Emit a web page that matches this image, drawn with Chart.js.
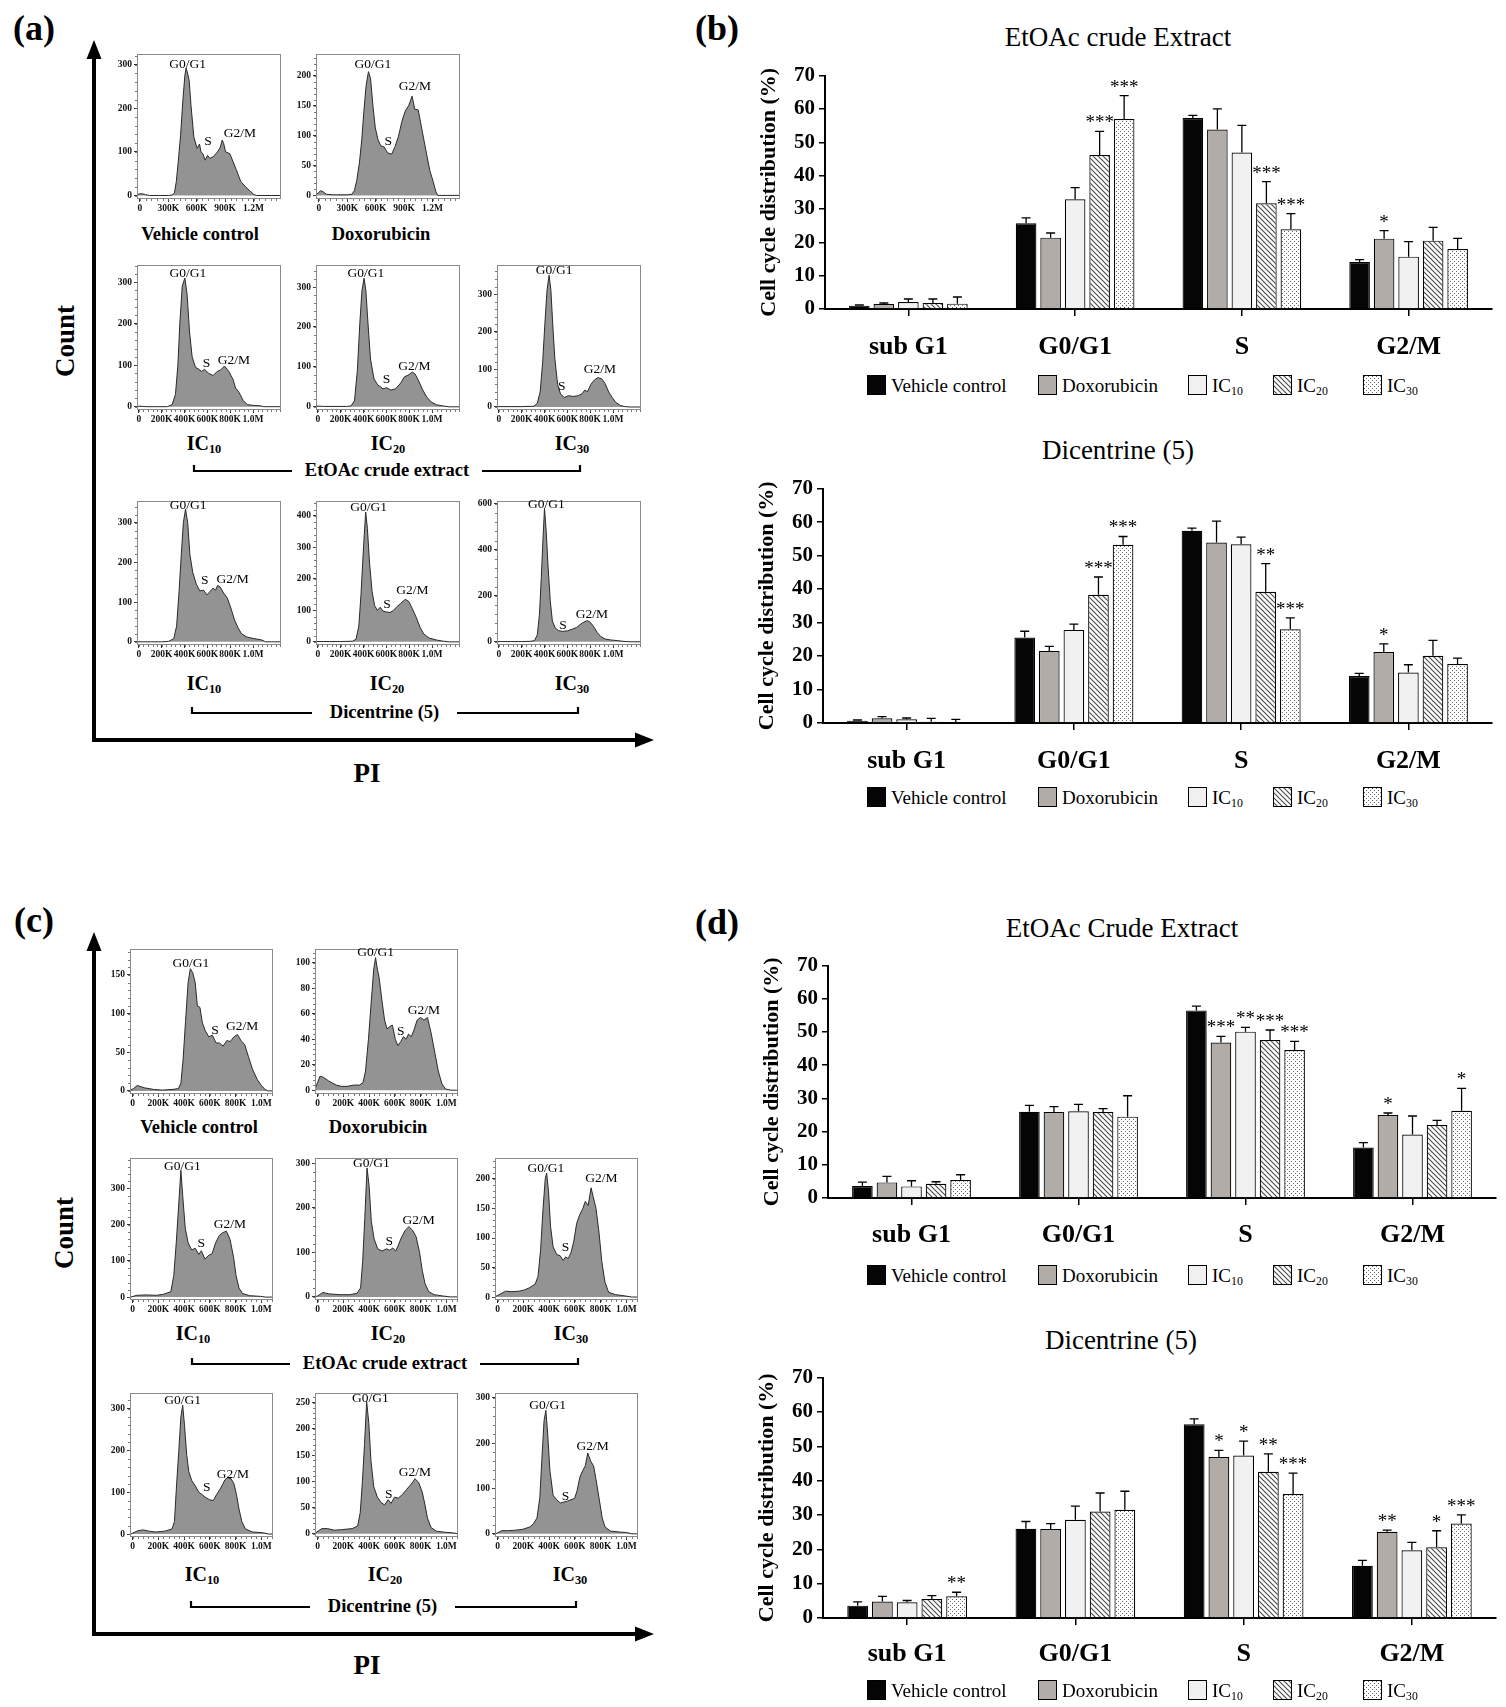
<!DOCTYPE html>
<html>
<head>
<meta charset="utf-8">
<title>Cell cycle distribution</title>
<script src="https://cdn.jsdelivr.net/npm/chart.js@4.4.1/dist/chart.umd.min.js"></script>
<style>
  html, body { margin: 0; padding: 0; background: #fff; }
  body { position: relative; width: 1506px; height: 1707px; overflow: hidden;
         font-family: "Liberation Serif", "Times New Roman", serif; color: #000; }
  .abs { position: absolute; }
  .txt { position: absolute; white-space: nowrap; line-height: 1; transform: translate(-50%, -50%); }
  .cap { font-weight: bold; font-size: 18.5px; }
  .ic { font-weight: bold; font-size: 20px; }
  .ic sub, .lg sub { font-size: 0.62em; vertical-align: -0.28em; line-height: 0; }
  .panel { font-weight: bold; font-size: 36px; }
  .axisname { font-weight: bold; font-size: 27px; }
  .rot { transform: translate(-50%, -50%) rotate(-90deg); }
  .ttl { font-size: 27px; }
  .lg { position: absolute; white-space: nowrap; line-height: 1; font-size: 19px; transform: translateY(-50%); }
  .sw { position: absolute; width: 19px; height: 20px; border: 1.2px solid #000; box-sizing: border-box; transform: translateY(-50%); }
  svg { position: absolute; left: 0; top: 0; }
</style>
</head>
<body>
<script>
const SERIF = '"Liberation Serif", "Times New Roman", serif';

// ---------- bar charts (b) and (d) ----------
const phases = ['sub G1', 'G0/G1', 'S', 'G2/M'];
const groupNames = ['Vehicle control', 'Doxorubicin', 'IC10', 'IC20', 'IC30'];
const groupLabels = ['Vehicle control', 'Doxorubicin', 'IC<sub>10</sub>', 'IC<sub>20</sub>', 'IC<sub>30</sub>'];

// rows: Vehicle, Doxorubicin, IC10, IC20, IC30 ; columns: sub G1, G0/G1, S, G2/M
const bExtMean = [[1.0, 25.7, 57.3, 14.1], [1.5, 21.4, 53.8, 21.1], [2.1, 32.9, 46.9, 15.7], [1.8, 46.2, 31.7, 20.5], [1.6, 57.0, 23.9, 18.0]];
const bExtErr  = [[0.2, 1.6, 0.8, 0.7], [0.3, 1.4, 6.2, 2.4], [0.9, 3.5, 8.2, 4.5], [1.2, 7.1, 6.5, 4.0], [2.0, 7.0, 4.7, 3.2]];
const bExtSig  = [['', '', '', ''], ['', '', '', '*'], ['', '', '', ''], ['', '***', '***', ''], ['', '***', '***', '']];

const bDicMean = [[0.7, 25.5, 57.4, 14.0], [1.4, 21.5, 53.9, 21.2], [1.1, 27.8, 53.4, 15.1], [0.4, 38.3, 39.2, 20.1], [0.0, 53.2, 28.0, 17.6]];
const bDicErr  = [[0.2, 1.9, 0.8, 0.8], [0.5, 1.4, 6.4, 2.4], [0.4, 1.7, 2.1, 2.3], [1.0, 5.3, 8.4, 4.6], [1.1, 2.5, 3.4, 1.8]];
const bDicSig  = [['', '', '', ''], ['', '', '', '*'], ['', '', '', ''], ['', '***', '**', ''], ['', '***', '***', '']];

const dExtMean = [[3.6, 26.0, 56.5, 15.2], [4.7, 25.9, 46.8, 25.0], [3.5, 26.1, 50.1, 19.1], [4.3, 25.9, 47.6, 22.0], [5.4, 24.5, 44.6, 26.3]];
const dExtErr  = [[1.2, 1.9, 1.3, 1.5], [1.8, 1.6, 1.9, 0.6], [1.7, 2.1, 1.3, 5.6], [0.6, 1.0, 3.0, 1.4], [1.6, 6.3, 2.6, 6.7]];
const dExtSig  = [['', '', '', ''], ['', '', '***', '*'], ['', '', '**', ''], ['', '', '***', ''], ['', '', '***', '*']];

const dDicMean = [[3.6, 26.0, 56.4, 15.2], [4.8, 25.9, 46.9, 25.1], [4.6, 28.6, 47.3, 19.7], [5.5, 31.0, 42.6, 20.6], [6.3, 31.5, 36.1, 27.5]];
const dDicErr  = [[1.1, 2.1, 1.6, 1.6], [1.5, 1.6, 1.9, 0.5], [0.5, 4.0, 4.2, 2.3], [1.0, 5.4, 5.2, 4.8], [1.2, 5.4, 6.1, 2.5]];
const dDicSig  = [['', '', '', ''], ['', '', '*', '**'], ['', '', '*', ''], ['', '', '**', '*'], ['**', '', '***', '***']];

// ---------- flow cytometry histograms (PI in K, count) ----------
const xTicks300 = [0, 300, 600, 900, 1200];
const xLab300 = ['0', '300K', '600K', '900K', '1.2M'];
const xTicks200 = [0, 200, 400, 600, 800, 1000];
const xLab200 = ['0', '200K', '400K', '600K', '800K', '1.0M'];
const phaseNames = ['G0/G1', 'S', 'G2/M'];

// (a) vehicle control
const hA1x = [-25, 0, 25, 60, 100, 200, 300, 340, 365, 385, 405, 430, 455, 475, 488, 500, 520, 540, 570, 605, 630, 645, 665, 690, 715, 740, 775, 820, 850, 870, 885, 905, 950, 985, 1020, 1065, 1120, 1160, 1205, 1235, 1300, 1480];
const hA1y = [2, 4, 4, 2, 0, 0, 0, 1, 6, 32, 77, 138, 221, 274, 292, 283, 265, 206, 134, 108, 118, 100, 96, 81, 92, 85, 89, 100, 111, 127, 119, 100, 96, 77, 58, 32, 19, 11, 2, 0, 0, 0];
// (a) doxorubicin
const hA2x = [-25, 0, 20, 45, 80, 150, 300, 350, 375, 400, 428, 453, 474, 499, 524, 546, 571, 596, 625, 654, 690, 726, 769, 805, 841, 877, 912, 948, 984, 1013, 1049, 1092, 1135, 1171, 1207, 1236, 1255, 1300, 1480];
const hA2y = [2, 5, 8, 6, 2, 1, 1, 2, 8, 25, 54, 93, 138, 184, 207, 195, 150, 113, 93, 83, 81, 71, 69, 82, 99, 124, 141, 150, 166, 144, 143, 107, 71, 42, 23, 6, 0, 0, 0];
// (a) EtOAc extract IC10, IC20, IC30
const hA3x = [-15, 20, 70, 150, 250, 292, 321, 342, 359, 380, 403, 423, 444, 467, 496, 526, 550, 575, 613, 651, 686, 715, 750, 788, 826, 847, 876, 914, 949, 1007, 1066, 1095, 1150, 1240];
const hA3y = [1, 1, 0, 0, 0, 5, 30, 100, 200, 290, 310, 270, 180, 120, 95, 90, 85, 90, 80, 75, 85, 88, 98, 85, 65, 45, 35, 15, 5, 3, 2, 0, 0, 0];
const hA4x = [-15, 50, 150, 250, 290, 321, 346, 368, 386, 405, 421, 439, 461, 492, 524, 571, 602, 639, 680, 727, 758, 796, 827, 852, 883, 914, 952, 993, 1040, 1100, 1150, 1240];
const hA4y = [2, 1, 1, 1, 2, 15, 90, 210, 290, 322, 290, 210, 120, 70, 55, 45, 48, 42, 45, 60, 75, 80, 87, 82, 65, 45, 25, 12, 5, 2, 0, 0];
const hA5x = [-15, 100, 200, 306, 337, 362, 384, 403, 422, 440, 456, 472, 490, 515, 540, 572, 609, 650, 697, 728, 753, 775, 806, 837, 868, 900, 931, 962, 993, 1025, 1065, 1103, 1150, 1240];
const hA5y = [1, 1, 1, 2, 10, 40, 120, 220, 310, 350, 310, 220, 130, 60, 35, 25, 30, 28, 30, 35, 45, 40, 60, 72, 78, 75, 62, 40, 25, 12, 4, 1, 0, 0];
// (a) dicentrine IC10, IC20, IC30
const hA6x = [-15, 100, 197, 259, 306, 331, 353, 372, 390, 409, 428, 447, 472, 503, 534, 566, 597, 628, 650, 672, 690, 712, 744, 775, 806, 838, 869, 900, 947, 1009, 1072, 1109, 1160, 1240];
const hA6y = [0, 0, 0, 1, 8, 40, 130, 220, 300, 334, 300, 220, 175, 145, 128, 130, 118, 128, 135, 130, 142, 138, 122, 110, 85, 55, 35, 20, 12, 8, 5, 0, 0, 0];
const hA7x = [-15, 100, 200, 303, 334, 359, 378, 397, 419, 434, 453, 475, 497, 522, 547, 569, 600, 631, 663, 694, 725, 766, 797, 828, 859, 897, 928, 975, 1038, 1100, 1150, 1240];
const hA7y = [1, 1, 1, 2, 8, 50, 150, 280, 412, 360, 250, 160, 115, 100, 110, 98, 95, 93, 100, 112, 122, 135, 128, 105, 80, 45, 25, 12, 6, 2, 0, 0];
const hA8x = [-15, 100, 200, 275, 312, 337, 356, 372, 387, 400, 415, 431, 450, 469, 494, 525, 562, 603, 644, 681, 712, 744, 775, 800, 831, 862, 894, 931, 978, 1041, 1087, 1150, 1240];
const hA8y = [1, 1, 1, 2, 5, 30, 120, 280, 450, 580, 480, 330, 180, 90, 60, 48, 45, 48, 55, 62, 75, 85, 92, 85, 65, 40, 22, 12, 8, 5, 2, 0, 0];

// (c) vehicle control, doxorubicin
const hC1x = [-18, 8, 36, 92, 161, 231, 314, 356, 375, 392, 411, 431, 448, 467, 486, 503, 523, 542, 564, 592, 620, 648, 675, 703, 731, 759, 787, 814, 842, 870, 898, 931, 967, 1000, 1028, 1050, 1090];
const hC1y = [1, 3, 7, 4, 2, 1, 2, 3, 10, 40, 90, 140, 158, 153, 140, 110, 108, 88, 78, 70, 72, 62, 62, 58, 65, 64, 70, 73, 65, 60, 45, 28, 15, 7, 2, 0, 0];
const hC2x = [-15, 19, 47, 89, 145, 186, 228, 284, 325, 353, 372, 395, 417, 436, 450, 464, 478, 500, 520, 539, 561, 581, 603, 623, 645, 667, 687, 706, 728, 751, 773, 798, 826, 853, 881, 909, 937, 965, 992, 1034, 1090];
const hC2y = [2, 11, 10, 7, 4, 3, 3, 4, 4, 6, 15, 40, 70, 95, 104, 95, 88, 70, 55, 48, 50, 51, 40, 35, 38, 42, 40, 44, 42, 48, 55, 57, 55, 57, 45, 30, 15, 5, 1, 0, 0];
// (c) EtOAc extract IC10, IC20, IC30
const hC3x = [-15, 33, 103, 186, 242, 297, 320, 339, 359, 375, 389, 409, 431, 459, 486, 514, 534, 562, 589, 617, 645, 673, 700, 728, 756, 784, 803, 826, 853, 909, 992, 1034, 1090];
const hC3y = [0, 5, 6, 5, 8, 15, 60, 150, 260, 350, 280, 190, 150, 130, 135, 118, 128, 105, 115, 120, 150, 170, 178, 182, 160, 110, 60, 25, 10, 4, 2, 0, 0];
const hC4x = [-15, 0, 42, 83, 167, 250, 306, 334, 350, 367, 384, 400, 417, 439, 467, 500, 534, 561, 584, 606, 625, 653, 681, 709, 737, 765, 792, 812, 834, 862, 904, 973, 1029, 1090];
const hC4y = [1, 2, 10, 7, 5, 5, 8, 20, 80, 180, 290, 250, 170, 130, 108, 103, 108, 105, 110, 103, 115, 135, 150, 158, 150, 135, 100, 60, 30, 12, 5, 2, 0, 0];
const hC5x = [-15, 28, 64, 111, 167, 208, 250, 292, 314, 334, 353, 370, 381, 395, 411, 431, 459, 486, 509, 528, 548, 570, 592, 614, 639, 662, 681, 703, 726, 742, 764, 787, 809, 834, 862, 917, 987, 1042, 1090];
const hC5y = [1, 6, 10, 9, 10, 12, 16, 22, 35, 80, 150, 200, 210, 180, 120, 85, 72, 70, 62, 68, 65, 75, 95, 125, 140, 150, 162, 155, 185, 170, 150, 110, 60, 25, 8, 4, 2, 0, 0];
// (c) dicentrine IC10, IC20, IC30
const hC6x = [-15, 42, 83, 125, 181, 250, 306, 325, 342, 359, 375, 389, 403, 420, 436, 459, 487, 514, 537, 564, 598, 626, 653, 675, 698, 717, 737, 765, 787, 806, 826, 848, 876, 931, 1015, 1056, 1090];
const hC6y = [0, 8, 10, 7, 5, 7, 12, 30, 120, 200, 280, 308, 260, 190, 150, 128, 115, 100, 95, 88, 82, 80, 95, 105, 118, 130, 135, 132, 120, 95, 60, 30, 12, 5, 3, 0, 0];
const hC7x = [-15, 33, 75, 131, 186, 270, 311, 331, 348, 364, 381, 398, 414, 436, 464, 492, 520, 548, 570, 598, 626, 659, 692, 728, 756, 784, 812, 834, 853, 881, 923, 992, 1048, 1090];
const hC7y = [2, 10, 10, 7, 8, 10, 15, 40, 100, 170, 252, 210, 140, 90, 70, 60, 55, 65, 58, 70, 68, 75, 85, 95, 105, 98, 80, 55, 30, 12, 5, 3, 2, 0];
const hC8x = [-15, 33, 83, 139, 195, 250, 278, 306, 328, 345, 361, 375, 389, 406, 431, 459, 487, 514, 542, 570, 598, 617, 639, 662, 681, 700, 723, 745, 764, 787, 812, 834, 876, 945, 1000, 1042, 1090];
const hC8y = [0, 7, 7, 8, 10, 15, 22, 35, 80, 170, 250, 272, 220, 140, 85, 75, 68, 70, 72, 75, 78, 95, 125, 140, 150, 178, 160, 150, 120, 80, 35, 15, 6, 4, 3, 0, 0];

// ---------- layout ----------
const histSpecs = [
  { x: hA1x, y: hA1y, box: { x: 137, y: 54, w: 144, h: 145 }, xr: [-30, 1490], xt: xTicks300, xl: xLab300, yr: [-8, 325], ys: 100, ann: [[505, 292], [719, 115], [1057, 134]] },
  { x: hA2x, y: hA2y, box: { x: 316, y: 54, w: 144, h: 145 }, xr: [-30, 1490], xt: xTicks300, xl: xLab300, yr: [-6, 237], ys: 50, ann: [[571, 213], [733, 85], [1015, 176]] },
  { x: hA3x, y: hA3y, box: { x: 137, y: 265, w: 144, h: 145 }, xr: [-16, 1245], xt: xTicks200, xl: xLab200, yr: [-8, 342], ys: 100, ann: [[429, 312], [593, 96], [832, 104]] },
  { x: hA4x, y: hA4y, box: { x: 316, y: 265, w: 144, h: 145 }, xr: [-16, 1245], xt: xTicks200, xl: xLab200, yr: [-8, 356], ys: 100, ann: [[421, 324], [602, 60], [846, 92]] },
  { x: hA5x, y: hA5y, box: { x: 497, y: 265, w: 144, h: 145 }, xr: [-16, 1245], xt: xTicks200, xl: xLab200, yr: [-8, 378], ys: 100, ann: [[484, 352], [550, 45], [884, 89]] },
  { x: hA6x, y: hA6y, box: { x: 137, y: 501, w: 144, h: 144 }, xr: [-16, 1245], xt: xTicks200, xl: xLab200, yr: [-8, 355], ys: 100, ann: [[431, 334], [578, 145], [822, 149]] },
  { x: hA7x, y: hA7y, box: { x: 316, y: 501, w: 144, h: 144 }, xr: [-16, 1245], xt: xTicks200, xl: xLab200, yr: [-10, 448], ys: 100, ann: [[444, 415], [606, 108], [828, 151]] },
  { x: hA8x, y: hA8y, box: { x: 497, y: 501, w: 144, h: 144 }, xr: [-16, 1245], xt: xTicks200, xl: xLab200, yr: [-14, 613], ys: 200, ann: [[416, 582], [562, 54], [815, 105]] },
  { x: hC1x, y: hC1y, box: { x: 130, y: 949, w: 143, h: 145 }, xr: [-20, 1090], xt: xTicks200, xl: xLab200, yr: [-4, 184], ys: 50, ann: [[453, 160], [639, 74], [851, 79]] },
  { x: hC2x, y: hC2y, box: { x: 315, y: 949, w: 143, h: 145 }, xr: [-20, 1090], xt: xTicks200, xl: xLab200, yr: [-3, 111], ys: 20, ann: [[450, 105], [645, 43], [826, 60]] },
  { x: hC3x, y: hC3y, box: { x: 130, y: 1158, w: 143, h: 142 }, xr: [-20, 1090], xt: xTicks200, xl: xLab200, yr: [-8, 385], ys: 100, ann: [[386, 350], [534, 138], [756, 191]] },
  { x: hC4x, y: hC4y, box: { x: 315, y: 1158, w: 143, h: 142 }, xr: [-20, 1090], xt: xTicks200, xl: xLab200, yr: [-7, 313], ys: 100, ann: [[417, 292], [556, 117], [784, 165]] },
  { x: hC5x, y: hC5y, box: { x: 495, y: 1158, w: 143, h: 142 }, xr: [-20, 1090], xt: xTicks200, xl: xLab200, yr: [-5, 236], ys: 50, ann: [[375, 212], [528, 78], [806, 195]] },
  { x: hC6x, y: hC6y, box: { x: 130, y: 1393, w: 143, h: 144 }, xr: [-20, 1090], xt: xTicks200, xl: xLab200, yr: [-7, 338], ys: 100, ann: [[389, 310], [575, 102], [778, 134]] },
  { x: hC7x, y: hC7y, box: { x: 315, y: 1393, w: 143, h: 144 }, xr: [-20, 1090], xt: xTicks200, xl: xLab200, yr: [-6, 269], ys: 50, ann: [[409, 252], [553, 68], [756, 110]] },
  { x: hC8x, y: hC8y, box: { x: 495, y: 1393, w: 143, h: 144 }, xr: [-20, 1090], xt: xTicks200, xl: xLab200, yr: [-7, 311], ys: 100, ann: [[389, 274], [528, 75], [737, 184]] }
];

const barSpecs = [
  { mean: bExtMean, err: bExtErr, sig: bExtSig, box: { x: 825, y: 76, w: 667, h: 233 }, catPad: 16, title: 'EtOAc crude Extract', tx: 1118, ty: 37, legendY: 385 },
  { mean: bDicMean, err: bDicErr, sig: bDicSig, box: { x: 823, y: 489, w: 669, h: 234 }, catPad: 16, title: 'Dicentrine (5)', tx: 1118, ty: 450, legendY: 797 },
  { mean: dExtMean, err: dExtErr, sig: dExtSig, box: { x: 828, y: 966, w: 668, h: 232 }, catPad: 15, title: 'EtOAc Crude Extract', tx: 1122, ty: 928, legendY: 1275 },
  { mean: dDicMean, err: dDicErr, sig: dDicSig, box: { x: 823, y: 1378, w: 673, h: 240 }, catPad: 14, title: 'Dicentrine (5)', tx: 1121, ty: 1340, legendY: 1690 }
];
const legendX = [867, 1038, 1188, 1273, 1363];

// ---------- helpers ----------
function addText(html, x, y, cls) {
  const d = document.createElement('div');
  d.className = 'txt ' + cls;
  d.innerHTML = html;
  d.style.left = x + 'px';
  d.style.top = y + 'px';
  document.body.appendChild(d);
  return d;
}

// places a chart so that its plot area lands on the given box
function placeChart(makeConfig, box, extraW, extraH) {
  const wrap = document.createElement('div');
  wrap.className = 'abs';
  const canvas = document.createElement('canvas');
  canvas.width = box.w + extraW;
  canvas.height = box.h + extraH;
  wrap.appendChild(canvas);
  document.body.appendChild(wrap);
  let chart = new Chart(canvas, makeConfig());
  let a = chart.chartArea;
  const dw = Math.round(box.w - a.width), dh = Math.round(box.h - a.height);
  if (dw !== 0 || dh !== 0) {
    chart.destroy();
    canvas.width = box.w + extraW + dw;
    canvas.height = box.h + extraH + dh;
    chart = new Chart(canvas, makeConfig());
    a = chart.chartArea;
  }
  wrap.style.left = (box.x - a.left) + 'px';
  wrap.style.top = (box.y - a.top) + 'px';
  return chart;
}

function hatchTile() {
  const c = document.createElement('canvas');
  c.width = 5; c.height = 5;
  const g = c.getContext('2d');
  g.fillStyle = '#fff'; g.fillRect(0, 0, 5, 5);
  g.strokeStyle = '#4a4a4a'; g.lineWidth = 1.1;
  g.beginPath();
  g.moveTo(-1, -1); g.lineTo(6, 6);
  g.moveTo(-1, 4); g.lineTo(1, 6);
  g.moveTo(4, -1); g.lineTo(6, 1);
  g.stroke();
  return c;
}
function dotTile() {
  const c = document.createElement('canvas');
  c.width = 4; c.height = 4;
  const g = c.getContext('2d');
  g.fillStyle = '#fff'; g.fillRect(0, 0, 4, 4);
  g.fillStyle = '#666'; g.fillRect(0, 0, 1, 1); g.fillRect(2, 2, 1, 1);
  return c;
}
const patCtx = document.createElement('canvas').getContext('2d');
const hatch = hatchTile(), dots = dotTile();
const barFills = ['#050505', '#b1aca8', '#f1f1f1', patCtx.createPattern(hatch, 'repeat'), patCtx.createPattern(dots, 'repeat')];
const swatchCss = ['#050505', '#b1aca8', '#f1f1f1', 'url(' + hatch.toDataURL() + ')', 'url(' + dots.toDataURL() + ')'];

// error bars and significance stars
const errorBars = {
  id: 'errorBars',
  afterDatasetsDraw(chart) {
    const ctx = chart.ctx, ys = chart.scales.y;
    chart.data.datasets.forEach((ds, i) => {
      chart.getDatasetMeta(i).data.forEach((bar, j) => {
        const top = ys.getPixelForValue(ds.data[j] + ds.err[j]);
        ctx.save();
        ctx.strokeStyle = '#000';
        ctx.lineWidth = 1.3;
        ctx.beginPath();
        ctx.moveTo(bar.x, bar.y);
        ctx.lineTo(bar.x, top);
        ctx.moveTo(bar.x - 4.5, top);
        ctx.lineTo(bar.x + 4.5, top);
        ctx.stroke();
        if (ds.sig[j]) {
          ctx.fillStyle = '#000';
          ctx.font = '19px ' + SERIF;
          ctx.textAlign = 'center';
          ctx.textBaseline = 'alphabetic';
          ctx.fillText(ds.sig[j], bar.x, top - 3);
        }
        ctx.restore();
      });
    });
  }
};

function barConfig(spec) {
  return {
    type: 'bar',
    data: {
      labels: phases,
      datasets: groupNames.map((g, i) => ({
        label: g,
        data: spec.mean[i],
        err: spec.err[i],
        sig: spec.sig[i],
        backgroundColor: barFills[i],
        borderColor: '#000',
        borderWidth: 1.2,
        categoryPercentage: 0.735,
        barPercentage: 0.84
      }))
    },
    options: {
      responsive: false, animation: false, events: [], devicePixelRatio: 1,
      layout: { padding: { top: 14, right: 6, left: 0, bottom: 0 } },
      plugins: { legend: { display: false }, tooltip: { enabled: false } },
      scales: {
        x: {
          grid: { offset: false, drawOnChartArea: false, tickLength: 7, color: '#000', lineWidth: 1.5 },
          border: { color: '#000', width: 2 },
          ticks: { color: '#000', padding: spec.catPad, font: { family: SERIF, size: 26, weight: 'bold' } },
          afterFit: s => { s.height = 62; }
        },
        y: {
          min: 0, max: 70,
          ticks: { stepSize: 10, color: '#000', padding: 4, font: { family: SERIF, size: 21, weight: 'bold' } },
          grid: { drawOnChartArea: false, tickLength: 6, color: '#000', lineWidth: 1.5 },
          border: { color: '#000', width: 2 },
          title: { display: true, text: 'Cell cycle distribution (%)', color: '#000', padding: 0,
                   font: { family: SERIF, size: 22, weight: 'bold' } },
          afterFit: s => { s.width = 69; }
        }
      }
    },
    plugins: [errorBars]
  };
}

// frame, minor ticks and phase labels of a histogram
function makeFrame(spec) {
  return {
    id: 'histFrame',
    afterDraw(chart) {
      const ctx = chart.ctx, a = chart.chartArea;
      const xs = chart.scales.x, ys = chart.scales.y;
      const xStep = spec.xt[1] - spec.xt[0];
      ctx.save();
      ctx.strokeStyle = '#555';
      ctx.lineWidth = 0.8;
      ctx.beginPath();
      for (let v = 0; v <= spec.yr[1]; v += spec.ys / 5) {
        const p = Math.round(ys.getPixelForValue(v)) + 0.5;
        ctx.moveTo(a.left, p); ctx.lineTo(a.left - 2, p);
      }
      for (let v = 0; v <= spec.xr[1]; v += xStep / 5) {
        const p = Math.round(xs.getPixelForValue(v)) + 0.5;
        ctx.moveTo(p, a.bottom); ctx.lineTo(p, a.bottom + 2);
      }
      ctx.stroke();
      ctx.strokeStyle = '#8a8a8a';
      ctx.lineWidth = 1;
      ctx.strokeRect(Math.round(a.left) + 0.5, Math.round(a.top) + 0.5, Math.round(a.width) - 1, Math.round(a.height) - 1);
      ctx.fillStyle = '#000';
      ctx.font = '13.5px ' + SERIF;
      ctx.textAlign = 'center';
      ctx.textBaseline = 'alphabetic';
      phaseNames.forEach((t, i) => {
        ctx.fillText(t, xs.getPixelForValue(spec.ann[i][0]), ys.getPixelForValue(spec.ann[i][1]));
      });
      ctx.restore();
    }
  };
}

function histConfig(spec) {
  const yTicks = [];
  for (let v = 0; v <= spec.yr[1]; v += spec.ys) yTicks.push(v);
  const tickFont = { family: SERIF, size: 9.5, weight: 'bold' };
  return {
    type: 'line',
    data: {
      datasets: [{
        data: spec.x.map((v, i) => ({ x: v, y: spec.y[i] })),
        fill: 'origin',
        backgroundColor: '#939393',
        borderColor: '#2a2a2a',
        borderWidth: 1,
        pointRadius: 0,
        tension: 0
      }]
    },
    options: {
      responsive: false, animation: false, events: [], devicePixelRatio: 1,
      layout: { padding: { top: 4, right: 6, left: 0, bottom: 0 } },
      plugins: { legend: { display: false }, tooltip: { enabled: false } },
      scales: {
        x: {
          type: 'linear', min: spec.xr[0], max: spec.xr[1],
          afterBuildTicks: s => { s.ticks = spec.xt.map(v => ({ value: v })); },
          afterFit: s => { s.height = 16; },
          ticks: { callback: (v, i) => spec.xl[i], autoSkip: false, maxRotation: 0, padding: 1, color: '#111', font: tickFont },
          grid: { drawOnChartArea: false, tickLength: 3, color: '#333' },
          border: { display: false }
        },
        y: {
          min: spec.yr[0], max: spec.yr[1],
          afterBuildTicks: s => { s.ticks = yTicks.map(v => ({ value: v })); },
          afterFit: s => { s.width = 28; },
          ticks: { callback: v => String(v), autoSkip: false, padding: 2, color: '#111', font: tickFont },
          grid: { drawOnChartArea: false, tickLength: 3, color: '#333' },
          border: { display: false }
        }
      }
    },
    plugins: [makeFrame(spec)]
  };
}

// ---------- draw ----------
histSpecs.forEach(spec => placeChart(() => histConfig(spec), spec.box, 34, 20));

barSpecs.forEach(spec => {
  placeChart(() => barConfig(spec), spec.box, 75, 76);
  addText(spec.title, spec.tx, spec.ty, 'ttl');
  groupLabels.forEach((html, i) => {
    const sw = document.createElement('div');
    sw.className = 'sw';
    sw.style.left = legendX[i] + 'px';
    sw.style.top = spec.legendY + 'px';
    sw.style.background = swatchCss[i];
    document.body.appendChild(sw);
    const t = document.createElement('div');
    t.className = 'lg';
    t.innerHTML = html;
    t.style.left = (legendX[i] + 24) + 'px';
    t.style.top = spec.legendY + 'px';
    document.body.appendChild(t);
  });
});

// panel letters, axis names, captions
addText('(a)', 34, 28, 'panel');
addText('(b)', 717, 28, 'panel');
addText('(c)', 34, 920, 'panel');
addText('(d)', 717, 922, 'panel');
addText('Count', 65, 341, 'axisname rot');
addText('Count', 64, 1233, 'axisname rot');
addText('PI', 367, 773, 'axisname');
addText('PI', 367, 1665, 'axisname');

addText('Vehicle control', 200, 234, 'cap');
addText('Doxorubicin', 381, 234, 'cap');
addText('Vehicle control', 199, 1127, 'cap');
addText('Doxorubicin', 378, 1127, 'cap');
[[204, 443], [388, 443], [572, 443], [204, 683], [387, 683], [572, 683],
 [193, 1333], [388, 1333], [571, 1333], [202, 1574], [385, 1574], [570, 1574]].forEach((p, i) => {
  addText('IC<sub>' + ['10', '20', '30'][i % 3] + '</sub>', p[0], p[1], 'ic');
});

const brackets = [
  { text: 'EtOAc crude extract', y: 471, x1: 194, x2: 580, g1: 292, g2: 482 },
  { text: 'Dicentrine (5)', y: 713, x1: 192, x2: 578, g1: 312, g2: 457 },
  { text: 'EtOAc crude extract', y: 1364, x1: 192, x2: 578, g1: 290, g2: 480 },
  { text: 'Dicentrine (5)', y: 1607, x1: 191, x2: 576, g1: 310, g2: 455 }
];

const NS = 'http://www.w3.org/2000/svg';
const svg = document.createElementNS(NS, 'svg');
svg.setAttribute('width', 1506);
svg.setAttribute('height', 1707);
function svgEl(tag, attrs) {
  const e = document.createElementNS(NS, tag);
  Object.keys(attrs).forEach(k => e.setAttribute(k, attrs[k]));
  svg.appendChild(e);
}
brackets.forEach(b => {
  svgEl('path', { d: `M${b.x1} ${b.y - 6} V${b.y} H${b.g1} M${b.g2} ${b.y} H${b.x2} V${b.y - 6}`, fill: 'none', stroke: '#000', 'stroke-width': 2.2 });
  addText(b.text, (b.g1 + b.g2) / 2, b.y - 1, 'cap');
});
// count / PI arrows of (a) and (c)
[[40, 740], [932, 1634]].forEach(([tip, base]) => {
  svgEl('path', { d: `M94 ${base + 2} V${tip + 14} M92 ${base} H638`, fill: 'none', stroke: '#000', 'stroke-width': 4 });
  svgEl('polygon', { points: `94,${tip} 86.5,${tip + 19} 101.5,${tip + 19}`, fill: '#000' });
  svgEl('polygon', { points: `654,${base} 635,${base - 7.5} 635,${base + 7.5}`, fill: '#000' });
});
document.body.appendChild(svg);
</script>
</body>
</html>
